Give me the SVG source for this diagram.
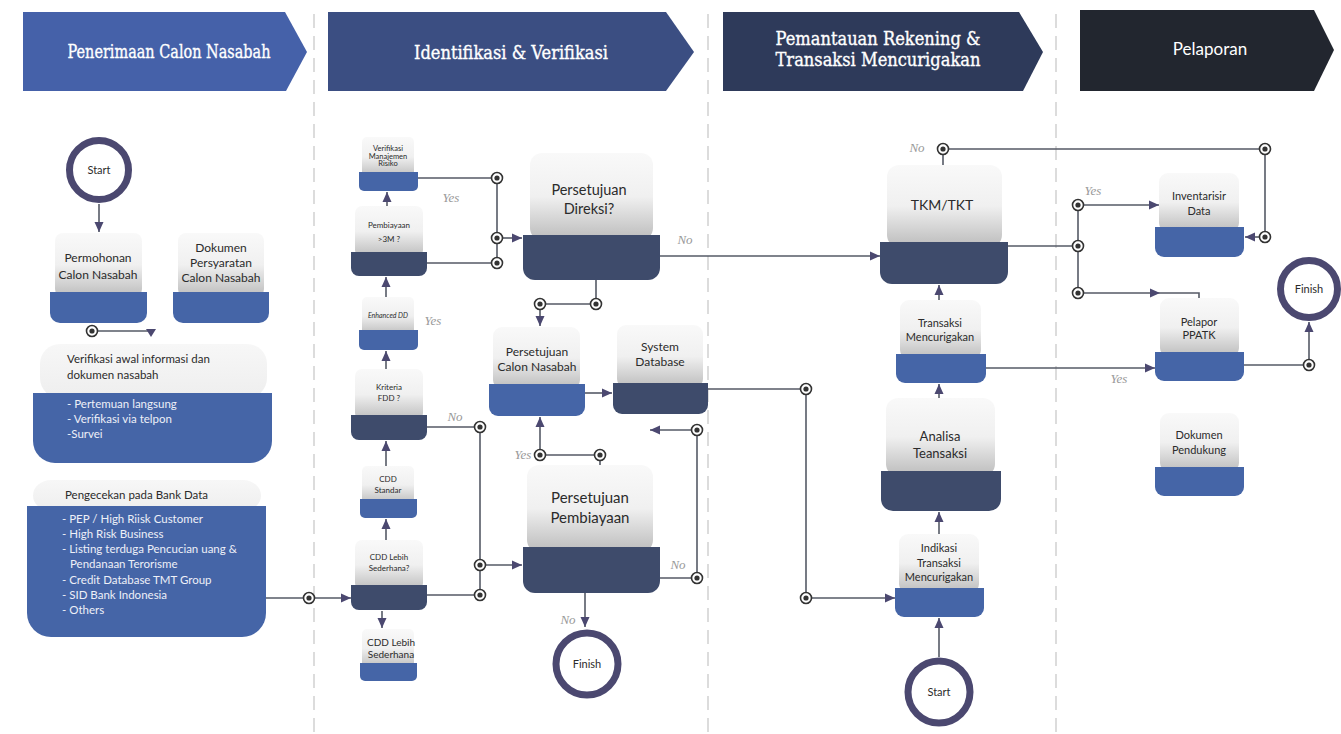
<svg xmlns="http://www.w3.org/2000/svg" xmlns:xlink="http://www.w3.org/1999/xlink" width="1341" height="734" viewBox="0 0 1341 734">
  <style>
    .face { fill: url(#faceGrad); }
    .face-flat { fill: url(#flatGrad); }
    .blue { fill: #4565a7; }
    .dark { fill: #3e4b6b; }
    .lbl { font-family: Lato, "Open Sans", sans-serif; fill: #2b2b2b; text-anchor: middle; }
    .lbl-left { font-family: Lato, "Open Sans", sans-serif; fill: #2b2b2b; font-size: 11.5px; }
    .list { font-family: Lato, "Open Sans", sans-serif; fill: #eef0f8; font-size: 11.5px; }
    .head { font-family: "DejaVu Serif", serif; fill: #ffffff; stroke: #ffffff; stroke-width: 0.35; font-size: 18px; text-anchor: middle; }
    .yn { font-family: "Liberation Serif", serif; font-style: italic; fill: #999999; font-size: 13px; text-anchor: middle; }
    .wire { fill: none; stroke: #555a66; stroke-width: 1.6; }
    .arrow { marker-end: url(#ah); }
    .ring { fill: #ffffff; stroke: #4b4870; stroke-width: 7; }
    .sep { stroke: #dcdcdc; stroke-width: 2; stroke-dasharray: 14 8; }
  </style>
  <defs>
    <linearGradient id="faceGrad" x1="0" y1="0" x2="0" y2="1">
      <stop offset="0" stop-color="#f9f9f9"/>
      <stop offset="0.5" stop-color="#f0f0f0"/>
      <stop offset="1" stop-color="#bcbcbc"/>
    </linearGradient>
    <linearGradient id="flatGrad" x1="0" y1="0" x2="0" y2="1">
      <stop offset="0" stop-color="#f7f7f7"/>
      <stop offset="1" stop-color="#eeeeee"/>
    </linearGradient>
    <marker id="ah" viewBox="0 0 10 10" refX="10" refY="5" markerWidth="10" markerHeight="10" markerUnits="userSpaceOnUse" orient="auto">
      <path d="M0,0.5 L10,5 L0,9.5 z" fill="#4b4870"/>
    </marker>
    <g id="pin">
      <circle r="5.5" fill="#ffffff" stroke="#333333" stroke-width="1.6"/>
      <circle r="2.6" fill="#333333"/>
    </g>
  </defs>

  <rect width="1341" height="734" fill="#ffffff"/>

  <!-- lane separators -->
  <g id="lanes">
    <line class="sep" x1="314" y1="14" x2="314" y2="734"/>
    <line class="sep" x1="708" y1="14" x2="708" y2="734"/>
    <line class="sep" x1="1056" y1="14" x2="1056" y2="734"/>
  </g>

  <!-- phase headers -->
  <g id="header-penerimaan">
    <polygon points="23,12 285,12 307,52 286,91 23,91" fill="#4561a9"/>
    <text class="head" x="169" y="58" font-size="17" textLength="203" lengthAdjust="spacingAndGlyphs">Penerimaan Calon Nasabah</text>
  </g>
  <g id="header-identifikasi">
    <polygon points="328,12 666,12 694,52 666,91 328,91" fill="#3b4e82"/>
    <text class="head" x="511" y="59" textLength="194" lengthAdjust="spacingAndGlyphs">Identifikasi &amp; Verifikasi</text>
  </g>
  <g id="header-pemantauan">
    <polygon points="723,12 1019,12 1043,52 1023,91 723,91" fill="#2e3a5a"/>
    <text class="head" x="878" y="45" textLength="205" lengthAdjust="spacingAndGlyphs">Pemantauan Rekening &amp;</text>
    <text class="head" x="878" y="66" textLength="205" lengthAdjust="spacingAndGlyphs">Transaksi Mencurigakan</text>
  </g>
  <g id="header-pelaporan">
    <polygon points="1080,10 1314,10 1334,50 1314,91 1080,91" fill="#22262f"/>
    <text x="1210" y="55" font-family="Lato, 'Open Sans', sans-serif" font-size="17" fill="#ffffff" text-anchor="middle">Pelaporan</text>
  </g>

  <!-- lane 1 -->
  <g id="start-1">
    <circle class="ring" cx="99" cy="170" r="29.5"/>
    <text class="lbl" x="99" y="174" font-size="11">Start</text>
  </g>
  <g id="permohonan">
    <rect class="face" x="55" y="233" width="87" height="64" rx="8"/>
    <path class="blue" d="M50 292H147V313A10 10 0 0 1 137 323H60A10 10 0 0 1 50 313Z"/>
    <text class="lbl" x="98" y="262" font-size="12">Permohonan</text>
    <text class="lbl" x="98" y="279" font-size="12">Calon Nasabah</text>
  </g>
  <g id="dokumen-persyaratan">
    <rect class="face" x="178" y="233" width="86" height="64" rx="8"/>
    <path class="blue" d="M173 292H269V313A10 10 0 0 1 259 323H183A10 10 0 0 1 173 313Z"/>
    <text class="lbl" x="221" y="252" font-size="12">Dokumen</text>
    <text class="lbl" x="221" y="267" font-size="12">Persyaratan</text>
    <text class="lbl" x="221" y="282" font-size="12">Calon Nasabah</text>
  </g>
  <g id="verifikasi-awal">
    <rect class="face-flat" x="40" y="344" width="227" height="54" rx="20"/>
    <path class="blue" d="M33 393H272V441A22 22 0 0 1 250 463H55A22 22 0 0 1 33 441Z"/>
    <text class="lbl-left" x="67" y="363">Verifikasi awal informasi dan</text>
    <text class="lbl-left" x="67" y="379">dokumen nasabah</text>
    <text class="list" x="67" y="408">- Pertemuan langsung</text>
    <text class="list" x="67" y="423">- Verifikasi via telpon</text>
    <text class="list" x="67" y="438">-Survei</text>
  </g>
  <g id="bank-data">
    <rect class="face-flat" x="33" y="480" width="228" height="31" rx="18"/>
    <path class="blue" d="M27 506H266V613A24 24 0 0 1 242 637H51A24 24 0 0 1 27 613Z"/>
    <text class="lbl-left" x="65" y="499">Pengecekan pada Bank Data</text>
    <text class="list" x="62" y="523">- PEP / High Riisk Customer</text>
    <text class="list" x="62" y="538">- High Risk Business</text>
    <text class="list" x="62" y="553">- Listing terduga Pencucian uang &amp;</text>
    <text class="list" x="70" y="568">Pendanaan Terorisme</text>
    <text class="list" x="62" y="584">- Credit Database TMT Group</text>
    <text class="list" x="62" y="599">- SID Bank Indonesia</text>
    <text class="list" x="62" y="614">- Others</text>
  </g>

  <!-- lane 2 -->
  <g id="verifikasi-risiko">
    <rect class="face" x="362" y="137" width="52" height="40" rx="5"/>
    <path class="blue" d="M359 172H418V186A5 5 0 0 1 413 191H364A5 5 0 0 1 359 186Z"/>
    <text class="lbl" x="388" y="150.5" font-size="7.5">Verifikasi</text>
    <text class="lbl" x="388" y="158.5" font-size="7.5">Manajemen</text>
    <text class="lbl" x="388" y="166" font-size="7.5">Risiko</text>
  </g>
  <g id="pembiayaan-3m">
    <rect class="face" x="355" y="206" width="68" height="51" rx="7"/>
    <path class="dark" d="M351 252H427V268A8 8 0 0 1 419 276H359A8 8 0 0 1 351 268Z"/>
    <text class="lbl" x="389" y="228" font-size="8">Pembiayaan</text>
    <text class="lbl" x="389" y="242" font-size="8">&gt;3M ?</text>
  </g>
  <g id="enhanced-dd">
    <rect class="face" x="362" y="297" width="52" height="38" rx="5"/>
    <path class="blue" d="M359 330H418V345A5 5 0 0 1 413 350H364A5 5 0 0 1 359 345Z"/>
    <text class="lbl" x="388" y="317.5" font-size="7" font-style="italic" fill="#8a8a8a">Enhanced DD</text>
  </g>
  <g id="kriteria-fdd">
    <rect class="face" x="355" y="369" width="68" height="51" rx="7"/>
    <path class="dark" d="M351 415H427V432A8 8 0 0 1 419 440H359A8 8 0 0 1 351 432Z"/>
    <text class="lbl" x="389" y="390" font-size="8">Kriteria</text>
    <text class="lbl" x="389" y="401" font-size="8">FDD ?</text>
  </g>
  <g id="cdd-standar">
    <rect class="face" x="362" y="466" width="52" height="38" rx="5"/>
    <path class="blue" d="M360 499H417V513A5 5 0 0 1 412 518H365A5 5 0 0 1 360 513Z"/>
    <text class="lbl" x="388" y="482" font-size="8">CDD</text>
    <text class="lbl" x="388" y="493" font-size="8">Standar</text>
  </g>
  <g id="cdd-sederhana-q">
    <rect class="face" x="355" y="540" width="68" height="50" rx="7"/>
    <path class="dark" d="M351 585H427V602A8 8 0 0 1 419 610H359A8 8 0 0 1 351 602Z"/>
    <text class="lbl" x="389" y="560" font-size="8">CDD Lebih</text>
    <text class="lbl" x="389" y="571" font-size="8">Sederhana?</text>
  </g>
  <g id="cdd-sederhana">
    <rect class="face" x="362" y="629" width="52" height="39" rx="5"/>
    <path class="blue" d="M360 663H417V676A5 5 0 0 1 412 681H365A5 5 0 0 1 360 676Z"/>
    <text class="lbl" x="391" y="646" font-size="10">CDD Lebih</text>
    <text class="lbl" x="391" y="658" font-size="10">Sederhana</text>
  </g>
  <g id="persetujuan-direksi">
    <rect class="face" x="530" y="153" width="123" height="87" rx="12"/>
    <path class="dark" d="M523 235H660V268A12 12 0 0 1 648 280H535A12 12 0 0 1 523 268Z"/>
    <text class="lbl" x="589" y="195" font-size="14.5">Persetujuan</text>
    <text class="lbl" x="589" y="214" font-size="14.5">Direksi?</text>
  </g>
  <g id="persetujuan-calon">
    <rect class="face" x="493" y="327" width="87" height="62" rx="9"/>
    <path class="blue" d="M489 384H585V407A9 9 0 0 1 576 416H498A9 9 0 0 1 489 407Z"/>
    <text class="lbl" x="537" y="356" font-size="12">Persetujuan</text>
    <text class="lbl" x="537" y="371" font-size="12">Calon Nasabah</text>
  </g>
  <g id="system-database">
    <rect class="face" x="617" y="325" width="86" height="63" rx="9"/>
    <path class="dark" d="M613 383H708V405A9 9 0 0 1 699 414H622A9 9 0 0 1 613 405Z"/>
    <text class="lbl" x="660" y="351" font-size="12">System</text>
    <text class="lbl" x="660" y="366" font-size="12">Database</text>
  </g>
  <g id="persetujuan-pembiayaan">
    <rect class="face" x="527" y="465" width="126" height="87" rx="12"/>
    <path class="dark" d="M523 547H660V581A12 12 0 0 1 648 593H535A12 12 0 0 1 523 581Z"/>
    <text class="lbl" x="590" y="503" font-size="15">Persetujuan</text>
    <text class="lbl" x="590" y="523" font-size="15">Pembiayaan</text>
  </g>
  <g id="finish-1">
    <circle class="ring" cx="587" cy="664" r="31"/>
    <text class="lbl" x="587" y="668" font-size="11">Finish</text>
  </g>

  <!-- lane 3 -->
  <g id="tkm-tkt">
    <rect class="face" x="887" y="165" width="115" height="82" rx="12"/>
    <path class="dark" d="M880 242H1008V272A12 12 0 0 1 996 284H892A12 12 0 0 1 880 272Z"/>
    <text class="lbl" x="942" y="210" font-size="14">TKM/TKT</text>
  </g>
  <g id="transaksi-mencurigakan">
    <rect class="face" x="900" y="300" width="81" height="59" rx="9"/>
    <path class="blue" d="M896 354H986V374A9 9 0 0 1 977 383H905A9 9 0 0 1 896 374Z"/>
    <text class="lbl" x="940" y="327" font-size="11">Transaksi</text>
    <text class="lbl" x="940" y="341" font-size="11">Mencurigakan</text>
  </g>
  <g id="analisa-transaksi">
    <rect class="face" x="886" y="398" width="109" height="78" rx="12"/>
    <path class="dark" d="M881 471H1001V499A12 12 0 0 1 989 511H893A12 12 0 0 1 881 499Z"/>
    <text class="lbl" x="940" y="441" font-size="13">Analisa</text>
    <text class="lbl" x="940" y="458" font-size="13">Teansaksi</text>
  </g>
  <g id="indikasi-transaksi">
    <rect class="face" x="899" y="534" width="80" height="59" rx="9"/>
    <path class="blue" d="M895 588H984V608A9 9 0 0 1 975 617H904A9 9 0 0 1 895 608Z"/>
    <text class="lbl" x="939" y="552" font-size="11">Indikasi</text>
    <text class="lbl" x="939" y="567" font-size="11">Transaksi</text>
    <text class="lbl" x="939" y="581" font-size="11">Mencurigakan</text>
  </g>
  <g id="start-2">
    <circle class="ring" cx="939" cy="692" r="31"/>
    <text class="lbl" x="939" y="696" font-size="11">Start</text>
  </g>

  <!-- lane 4 -->
  <g id="inventarisir-data">
    <rect class="face" x="1159" y="173" width="80" height="59" rx="9"/>
    <path class="blue" d="M1155 227H1244V248A9 9 0 0 1 1235 257H1164A9 9 0 0 1 1155 248Z"/>
    <text class="lbl" x="1199" y="200" font-size="11">Inventarisir</text>
    <text class="lbl" x="1199" y="215" font-size="11">Data</text>
  </g>
  <g id="pelapor-ppatk">
    <rect class="face" x="1160" y="298" width="79" height="59" rx="9"/>
    <path class="blue" d="M1155 352H1244V372A9 9 0 0 1 1235 381H1164A9 9 0 0 1 1155 372Z"/>
    <text class="lbl" x="1199" y="326" font-size="11">Pelapor</text>
    <text class="lbl" x="1199" y="339" font-size="11">PPATK</text>
  </g>
  <g id="dokumen-pendukung">
    <rect class="face" x="1160" y="413" width="79" height="59" rx="9"/>
    <path class="blue" d="M1155 467H1244V487A9 9 0 0 1 1235 496H1164A9 9 0 0 1 1155 487Z"/>
    <text class="lbl" x="1199" y="439" font-size="11">Dokumen</text>
    <text class="lbl" x="1199" y="454" font-size="11">Pendukung</text>
  </g>
  <g id="finish-2">
    <circle class="ring" cx="1309" cy="289" r="28.5"/>
    <text class="lbl" x="1309" y="293" font-size="11">Finish</text>
  </g>

  <!-- connectors -->
  <g id="connectors">
    <path class="wire arrow" d="M99 204V232"/>
    <path class="wire" d="M92 331H151"/>
    <polygon points="146,329 156,329 151,337" fill="#4b4870"/>
    <path class="wire arrow" d="M266 598H351"/>

    <path class="wire" d="M418 178H497V263H427"/>
    <path class="wire arrow" d="M497 238H522"/>
    <path class="wire arrow" d="M387 206V192"/>
    <path class="wire arrow" d="M386 297V277"/>
    <path class="wire arrow" d="M386 369V351"/>
    <path class="wire" d="M427 427H480V595H427"/>
    <path class="wire arrow" d="M480 565H522"/>
    <path class="wire arrow" d="M386 466V441"/>
    <path class="wire arrow" d="M386 540V519"/>
    <path class="wire arrow" d="M382 611V628"/>

    <path class="wire arrow" d="M660 256H880"/>
    <path class="wire" d="M596 280V304H540"/>
    <path class="wire arrow" d="M540 304V326"/>
    <path class="wire arrow" d="M585 393H612"/>
    <path class="wire" d="M708 389H806V598"/>
    <path class="wire arrow" d="M806 598H895"/>
    <path class="wire" d="M660 578H697V430"/>
    <path class="wire arrow" d="M697 430H650"/>
    <path class="wire arrow" d="M540 455V417"/>
    <path class="wire" d="M540 455H600V465"/>
    <path class="wire arrow" d="M585 593V627"/>

    <path class="wire arrow" d="M939 657V618"/>
    <path class="wire arrow" d="M939 534V512"/>
    <path class="wire arrow" d="M939 398V384"/>
    <path class="wire arrow" d="M939 300V285"/>
    <path class="wire arrow" d="M986 368H1155"/>
    <path class="wire" d="M943 165V149H1265V237"/>
    <path class="wire arrow" d="M1265 237H1245"/>
    <path class="wire" d="M1008 246H1078"/>
    <path class="wire" d="M1078 205V293"/>
    <path class="wire arrow" d="M1078 205H1159"/>
    <path class="wire" d="M1078 293H1199V298"/>
    <polygon points="1150,288.5 1160,293 1150,297.5" fill="#4b4870"/>
    <path class="wire" d="M1244 365H1309"/>
    <path class="wire arrow" d="M1309 365V322"/>

    <use xlink:href="#pin" x="92" y="331"/>
    <use xlink:href="#pin" x="309" y="598"/>
    <use xlink:href="#pin" x="497" y="178"/>
    <use xlink:href="#pin" x="497" y="238"/>
    <use xlink:href="#pin" x="497" y="263"/>
    <use xlink:href="#pin" x="480" y="427"/>
    <use xlink:href="#pin" x="480" y="565"/>
    <use xlink:href="#pin" x="480" y="595"/>
    <use xlink:href="#pin" x="596" y="304"/>
    <use xlink:href="#pin" x="540" y="304"/>
    <use xlink:href="#pin" x="540" y="455"/>
    <use xlink:href="#pin" x="600" y="455"/>
    <use xlink:href="#pin" x="697" y="430"/>
    <use xlink:href="#pin" x="697" y="578"/>
    <use xlink:href="#pin" x="806" y="389"/>
    <use xlink:href="#pin" x="806" y="598"/>
    <use xlink:href="#pin" x="943" y="149"/>
    <use xlink:href="#pin" x="1265" y="149"/>
    <use xlink:href="#pin" x="1265" y="237"/>
    <use xlink:href="#pin" x="1078" y="205"/>
    <use xlink:href="#pin" x="1078" y="246"/>
    <use xlink:href="#pin" x="1078" y="293"/>
    <use xlink:href="#pin" x="1309" y="365"/>

    <text class="yn" x="451" y="202">Yes</text>
    <text class="yn" x="433" y="325">Yes</text>
    <text class="yn" x="455" y="421">No</text>
    <text class="yn" x="685" y="244">No</text>
    <text class="yn" x="523" y="459">Yes</text>
    <text class="yn" x="678" y="569">No</text>
    <text class="yn" x="568" y="624">No</text>
    <text class="yn" x="917" y="152">No</text>
    <text class="yn" x="1093" y="195">Yes</text>
    <text class="yn" x="1119" y="383">Yes</text>
  </g>
</svg>
